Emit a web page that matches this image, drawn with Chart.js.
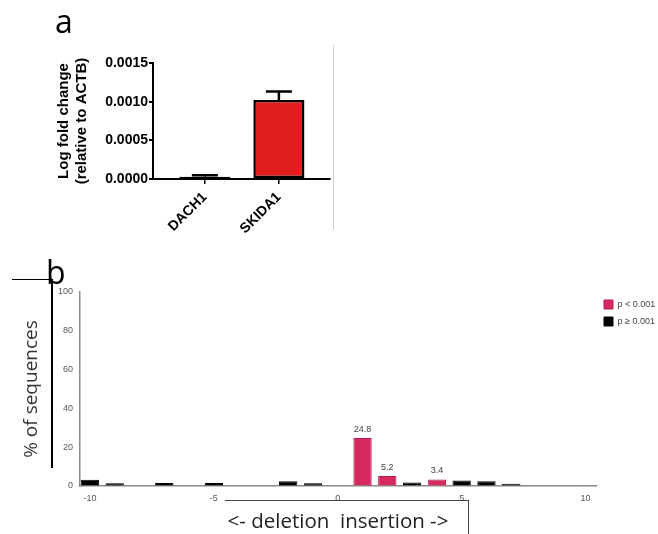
<!DOCTYPE html>
<html>
<head>
<meta charset="utf-8">
<script src="https://cdn.jsdelivr.net/npm/chart.js"></script>
<style>
  body { margin: 0; background: #fff; width: 658px; height: 534px; overflow: hidden; position: relative; }
  .panel { position: absolute; }
  .tag { position: absolute; font-family: "Open Sans", sans-serif; font-size: 32px; line-height: 1; color: #000; }
  .rule { position: absolute; background: #000; }
</style>
</head>
<body>
<div class="panel" style="left:0;top:0;width:340px;height:250px"><canvas id="chartA"></canvas></div>
<div class="rule" style="left:333px;top:45px;width:1px;height:185px;background:#cfcfcf"></div>
<div class="tag" style="left:55px;top:5px">a</div>

<div class="panel" style="left:0;top:262px;width:658px;height:272px"><canvas id="chartB"></canvas></div>
<div class="rule" style="left:12px;top:279px;width:40px;height:1px"></div>
<div class="rule" style="left:51px;top:279px;width:2px;height:189px"></div>
<div class="rule" style="left:225px;top:500px;width:244px;height:1px;background:#444"></div>
<div class="rule" style="left:468px;top:500px;width:1px;height:34px;background:#444"></div>
<div class="tag" style="left:46px;top:256px">b</div>

<script>
  Chart.defaults.font.family = "'Liberation Sans', Arial, sans-serif";
  Chart.defaults.animation = false;

  // panel a: expression relative to ACTB
  var aLabels = ["DACH1", "SKIDA1"];
  var aPos = [1, 2];
  var aVals = [0.00003, 0.00102];
  var aErr = [0.00002, 0.00011];
  var aTicks = [0, 0.0005, 0.001, 0.0015];

  // panel b: indel size distribution
  var bSigX = [1, 2, 4];
  var bSigY = [24.8, 5.2, 3.4];
  var bNsX = [-10, -9, -7, -5, -2, -1, 3, 5, 6, 7];
  var bNsY = [3.2, 1.4, 1.6, 1.6, 2.5, 1.4, 1.8, 2.8, 2.4, 1.2];
  var bTicksX = [-10, -5, 0, 5, 10];
  var bTicksY = [0, 20, 40, 60, 80, 100];

  // upward error bars (mean + SEM)
  var errorBars = {
    id: "errorBars",
    afterDatasetsDraw: function (chart) {
      var ctx = chart.ctx;
      var xs = chart.scales.x;
      var ys = chart.scales.y;
      ctx.save();
      ctx.strokeStyle = "#000";
      ctx.lineWidth = 2.5;
      for (var i = 0; i < aPos.length; i++) {
        var x = xs.getPixelForValue(aPos[i]);
        var y0 = ys.getPixelForValue(aVals[i]);
        var y1 = ys.getPixelForValue(aVals[i] + aErr[i]);
        ctx.beginPath();
        ctx.moveTo(x, y0);
        ctx.lineTo(x, y1);
        ctx.moveTo(x - 13, y1);
        ctx.lineTo(x + 13, y1);
        ctx.stroke();
      }
      ctx.restore();
    },
  };

  new Chart(document.getElementById("chartA"), {
    type: "bar",
    data: {
      datasets: [
        {
          data: aPos.map(function (x, i) {
            return { x: x, y: aVals[i] };
          }),
          backgroundColor: "#e11d1d",
          borderColor: "#000",
          borderWidth: 2.5,
          borderSkipped: false,
          barPercentage: 0.69,
          categoryPercentage: 1,
        },
      ],
    },
    options: {
      responsive: true,
      maintainAspectRatio: false,
      layout: { padding: { top: 63, right: 10, left: 0, bottom: 0 } },
      plugins: { legend: { display: false }, tooltip: { enabled: false } },
      scales: {
        x: {
          type: "linear",
          offset: false,
          min: 0.3,
          max: 2.69,
          afterBuildTicks: function (s) {
            s.ticks = aPos.map(function (v) {
              return { value: v };
            });
          },
          afterFit: function (s) {
            s.height = 71;
          },
          ticks: {
            color: "#000",
            font: { size: 14, weight: "bold" },
            minRotation: 45,
            maxRotation: 45,
            padding: 5,
            callback: function (v) {
              return aLabels[aPos.indexOf(v)];
            },
          },
          grid: { offset: false, drawOnChartArea: false, tickLength: 5, color: "#000", lineWidth: 1.5 },
          border: { color: "#000", width: 2 },
        },
        y: {
          min: 0,
          max: 0.0015,
          afterBuildTicks: function (s) {
            s.ticks = aTicks.map(function (v) {
              return { value: v };
            });
          },
          afterFit: function (s) {
            s.width = 153;
          },
          ticks: {
            color: "#000",
            font: { size: 14, weight: "bold" },
            padding: 1,
            callback: function (v) {
              return v.toFixed(4);
            },
          },
          grid: { drawOnChartArea: false, tickLength: 4, color: "#000", lineWidth: 2 },
          border: { color: "#000", width: 2 },
          title: {
            display: true,
            text: ["Log fold change", "(relative to ACTB)"],
            color: "#000",
            font: { size: 15, weight: "bold", lineHeight: 1.25 },
            padding: { top: 54, bottom: 0 },
          },
        },
      },
    },
    plugins: [errorBars],
  });

  // value labels over the significant bars
  var barValues = {
    id: "barValues",
    afterDatasetsDraw: function (chart) {
      var ctx = chart.ctx;
      var meta = chart.getDatasetMeta(0);
      ctx.save();
      ctx.font = "9px 'Liberation Sans', Arial, sans-serif";
      ctx.fillStyle = "#444";
      ctx.textAlign = "center";
      ctx.textBaseline = "bottom";
      meta.data.forEach(function (bar, i) {
        ctx.fillText(bSigY[i].toFixed(1), bar.x, bar.y - 4);
      });
      ctx.restore();
    },
  };

  new Chart(document.getElementById("chartB"), {
    type: "bar",
    data: {
      datasets: [
        {
          label: "p < 0.001",
          data: bSigX.map(function (x, i) {
            return { x: x, y: bSigY[i] };
          }),
          backgroundColor: "#d62a5e",
          borderColor: "#b01f4b",
          borderWidth: 1,
          grouped: false,
          barPercentage: 0.74,
          categoryPercentage: 1,
        },
        {
          label: "p \u2265 0.001",
          data: bNsX.map(function (x, i) {
            return { x: x, y: bNsY[i] };
          }),
          backgroundColor: "#000",
          borderColor: "#000",
          borderWidth: 1,
          grouped: false,
          barPercentage: 0.74,
          categoryPercentage: 1,
        },
      ],
    },
    options: {
      responsive: true,
      maintainAspectRatio: false,
      layout: { padding: { top: 30, right: 0, left: 0, bottom: 0 } },
      plugins: {
        tooltip: { enabled: false },
        legend: {
          position: "right",
          align: "start",
          maxWidth: 62,
          labels: {
            boxWidth: 9,
            boxHeight: 9,
            padding: 8,
            color: "#444",
            font: { size: 9 },
          },
        },
      },
      scales: {
        x: {
          type: "linear",
          offset: false,
          min: -10.4,
          max: 10.42,
          afterBuildTicks: function (s) {
            s.ticks = bTicksX.map(function (v) {
              return { value: v };
            });
          },
          afterFit: function (s) {
            s.height = 48;
          },
          ticks: { color: "#555", font: { size: 9 }, padding: 7 },
          grid: { offset: false, drawOnChartArea: false, drawTicks: false },
          border: { color: "#8a8a8a", width: 1.5 },
          title: {
            display: true,
            text: "<- deletion  insertion ->",
            color: "#222",
            font: { family: "'Open Sans', sans-serif", size: 20.5, lineHeight: 1.2 },
            padding: { top: 0, bottom: 0 },
          },
        },
        y: {
          min: 0,
          max: 100,
          afterBuildTicks: function (s) {
            s.ticks = bTicksY.map(function (v) {
              return { value: v };
            });
          },
          afterFit: function (s) {
            s.width = 80;
          },
          ticks: { color: "#555", font: { size: 9 }, padding: 7 },
          grid: { drawOnChartArea: false, drawTicks: false },
          border: { color: "#8a8a8a", width: 1.5 },
          title: {
            display: true,
            text: "% of sequences",
            color: "#333",
            font: { family: "'Open Sans', sans-serif", size: 19, lineHeight: 1.2 },
            padding: { top: 20, bottom: 0 },
          },
        },
      },
    },
    plugins: [barValues],
  });
</script>
</body>
</html>
